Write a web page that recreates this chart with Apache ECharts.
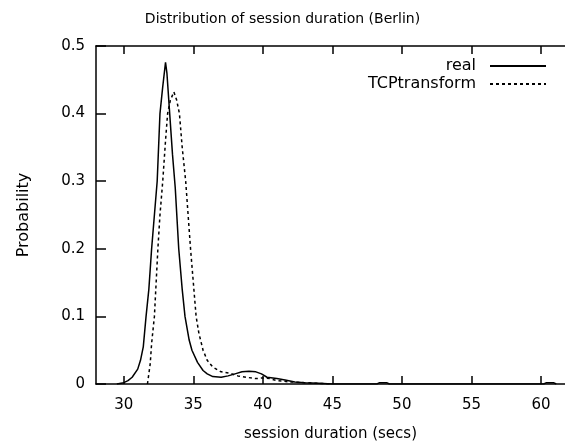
<!DOCTYPE html>
<html>
<head>
<meta charset="utf-8">
<script src="https://cdn.jsdelivr.net/npm/echarts@6/dist/echarts.min.js"></script>
<style>html,body{margin:0;padding:0;background:#fff}#c{width:565px;height:446px}</style>
</head>
<body>
<div id="c"></div>
<script>
const titleText = 'Distribution of session duration (Berlin)';
const xName = 'session duration (secs)';
const yName = 'Probability';
const xTicks = [30, 35, 40, 45, 50, 55, 60];

const realX = [29.5, 30.0, 30.3, 30.6, 31.0, 31.2, 31.4, 31.6, 31.8, 32.0, 32.2, 32.4, 32.6, 32.8, 33.0, 33.1, 33.3, 33.5, 33.7, 33.95, 34.2, 34.4, 34.7, 34.9, 35.3, 35.7, 36.0, 36.4, 37.0, 37.5, 38.0, 38.5, 39.0, 39.5, 39.9, 40.3, 41.0, 41.6, 42.3, 43.0, 44.0, 45.0, 48.2, 48.4, 48.9, 49.1, 60.2, 60.4, 60.9, 61.1];
const realY = [0.000, 0.002, 0.005, 0.010, 0.022, 0.035, 0.055, 0.100, 0.140, 0.200, 0.250, 0.300, 0.400, 0.440, 0.476, 0.460, 0.400, 0.340, 0.290, 0.200, 0.140, 0.100, 0.065, 0.050, 0.032, 0.020, 0.015, 0.011, 0.010, 0.012, 0.015, 0.018, 0.019, 0.018, 0.015, 0.010, 0.008, 0.006, 0.003, 0.002, 0.001, 0.000, 0.000, 0.002, 0.002, 0.000, 0.000, 0.002, 0.002, 0.000];

const tcpX = [31.7, 31.9, 32.0, 32.2, 32.45, 32.6, 32.8, 33.0, 33.15, 33.35, 33.6, 33.8, 34.0, 34.2, 34.45, 34.8, 35.0, 35.2, 35.4, 35.7, 36.0, 36.4, 37.0, 37.6, 38.2, 38.8, 39.5, 40.0, 40.5, 41.0, 42.0, 43.0, 44.0, 45.0];
const tcpY = [0.000, 0.030, 0.060, 0.100, 0.200, 0.250, 0.300, 0.360, 0.400, 0.420, 0.432, 0.420, 0.400, 0.350, 0.300, 0.200, 0.150, 0.100, 0.075, 0.050, 0.035, 0.025, 0.018, 0.016, 0.012, 0.010, 0.008, 0.009, 0.008, 0.005, 0.003, 0.002, 0.001, 0.000];

const FONT = 'DejaVu Sans';
const chart = echarts.init(document.getElementById('c'), null, {renderer: 'canvas'});
const legendCommon = {
  orient: 'vertical', align: 'right', itemWidth: 56, itemHeight: 10, padding: 0,
  itemStyle: {opacity: 0},
  textStyle: {fontFamily: FONT, fontSize: 16, color: '#000', padding: [0, 9, 0, 0]}
};
chart.setOption({
  animation: false,
  backgroundColor: '#fff',
  title: {
    text: titleText, left: 'center', top: 7,
    textStyle: {fontFamily: FONT, fontSize: 14, fontWeight: 'normal', color: '#000'}
  },
  legend: [
    Object.assign({data: ['real'], right: 18, top: 58}, legendCommon),
    Object.assign({data: ['TCPtransform'], right: 18, top: 76}, legendCommon)
  ],
  grid: {left: 96, top: 46, bottom: 62, right: 0, outerBoundsMode: 'none', containLabel: false},
  xAxis: [{
    type: 'value', min: 28, max: 61.73, position: 'bottom',
    name: xName, nameLocation: 'middle', nameGap: 43,
    nameTextStyle: {fontFamily: FONT, fontSize: 15, color: '#000'},
    axisLine: {show: true, lineStyle: {color: '#000', width: 1.5}},
    axisTick: {show: true, inside: true, length: 8, customValues: xTicks, lineStyle: {color: '#000', width: 1.5}},
    axisLabel: {customValues: xTicks, margin: 14, fontFamily: FONT, fontSize: 15, color: '#000'},
    splitLine: {show: false}
  }, {
    type: 'value', min: 28, max: 61.73, position: 'top',
    axisLine: {show: true, lineStyle: {color: '#000', width: 1.5}},
    axisTick: {show: true, inside: true, length: 8, customValues: xTicks, lineStyle: {color: '#000', width: 1.5}},
    axisLabel: {show: false},
    splitLine: {show: false}
  }],
  yAxis: {
    type: 'value', min: 0, max: 0.5, interval: 0.1,
    name: yName, nameLocation: 'middle', nameGap: 64, nameRotate: 90,
    nameTextStyle: {fontFamily: FONT, fontSize: 16, color: '#000'},
    axisLine: {show: true, lineStyle: {color: '#000', width: 1.5}},
    axisTick: {show: true, inside: true, length: 10, lineStyle: {color: '#000', width: 1.5}},
    axisLabel: {margin: 11, fontFamily: FONT, fontSize: 15, color: '#000'},
    splitLine: {show: false}
  },
  series: [{
    name: 'real', type: 'line', showSymbol: false, symbol: 'none',
    data: realX.map((x, i) => [x, realY[i]]),
    lineStyle: {color: '#000', width: 1.5, type: 'solid'},
    itemStyle: {color: '#000'}
  }, {
    name: 'TCPtransform', type: 'line', showSymbol: false, symbol: 'none',
    data: tcpX.map((x, i) => [x, tcpY[i]]),
    lineStyle: {color: '#000', width: 1.5, type: [3, 3]},
    itemStyle: {color: '#000'}
  }]
});
</script>
</body>
</html>
